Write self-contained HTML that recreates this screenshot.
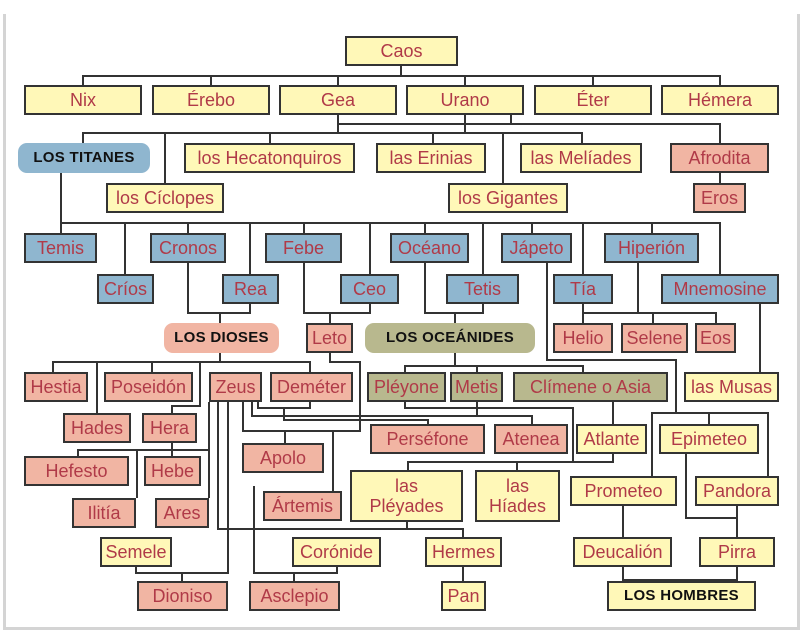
<!DOCTYPE html>
<html><head><meta charset="utf-8"><style>
body{margin:0;width:800px;height:632px;background:#fff;position:relative;overflow:hidden;font-family:"Liberation Sans","DejaVu Sans",sans-serif}
.f{position:absolute;left:3px;top:14px;width:791px;height:613px;border:3px solid #d4d4d4;border-top:none}
.b{position:absolute;box-sizing:border-box;border:2px solid #333;display:flex;align-items:center;justify-content:center;text-align:center;color:#b03a48;font-size:18px;line-height:20px;white-space:nowrap}
.y{background:#fff8b8}.u{background:#8fb6cf}.p{background:#f1b5a3}.o{background:#b8b88e}
.r{border:none;border-radius:9px;color:#111;font-weight:bold;font-size:15px;letter-spacing:.3px}
svg{position:absolute;left:0;top:0}
</style></head><body>
<div class="f"></div>
<svg width="800" height="632"><g fill="none" stroke="#333" stroke-width="2">
<polyline points="401,66 401,76"/><polyline points="83,85 83,76 720,76 720,85"/>
<polyline points="211,76 211,85"/><polyline points="338,76 338,85"/><polyline points="465,76 465,85"/><polyline points="593,76 593,85"/>
<polyline points="338,115 338,133"/><polyline points="83,143 83,133 582,133 582,143"/>
<polyline points="165,133 165,183"/><polyline points="270,133 270,143"/><polyline points="433,133 433,143"/><polyline points="503,133 503,183"/><polyline points="465,115 465,133"/>
<polyline points="338,124 511,124"/><polyline points="511,115 511,124 720,124 720,143"/><polyline points="720,173 720,183"/>
<polyline points="61,173 61,233"/><polyline points="61,223 720,223 720,274"/>
<polyline points="125,223 125,274"/><polyline points="188,223 188,233"/><polyline points="250,223 250,274"/><polyline points="304,223 304,233"/><polyline points="370,223 370,274"/><polyline points="425,223 425,233"/><polyline points="483,223 483,274"/><polyline points="532,223 532,233"/><polyline points="583,223 583,274"/><polyline points="652,223 652,233"/>
<polyline points="188,263 188,313 250,313 250,304"/><polyline points="220,313 220,323"/>
<polyline points="304,263 304,313 370,313 370,304"/><polyline points="330,313 330,323"/>
<polyline points="425,263 425,313 483,313 483,304"/><polyline points="455,313 455,323"/>
<polyline points="583,304 583,313 716,313 716,323"/><polyline points="638,263 638,313"/><polyline points="653,313 653,323"/><polyline points="583,313 583,323"/>
<polyline points="547,263 547,360 676,360 676,413"/><polyline points="652,476 652,413 768,413 768,476"/><polyline points="709,413 709,424"/>
<polyline points="760,304 760,372"/>
<polyline points="220,353 220,362"/><polyline points="53,372 53,362 310,362 310,372"/><polyline points="97,362 97,413"/><polyline points="152,362 152,372"/><polyline points="200,362 200,406 172,406 172,413"/>
<polyline points="330,353 330,362 360,362 360,431 243,431"/>
<polyline points="455,353 455,366"/><polyline points="405,372 405,366 583,366 583,372"/><polyline points="477,366 477,372"/>
<polyline points="172,443 172,456"/><polyline points="78,456 78,450 209,450 209,498"/><polyline points="137,450 137,498"/><polyline points="209,402 209,450"/>
<polyline points="243,402 243,431 333,431 333,491"/><polyline points="285,431 285,443"/>
<polyline points="258,402 258,408 310,408 310,402"/><polyline points="284,408 284,420 428,420 428,424"/>
<polyline points="252,402 252,416 532,416 532,424"/><polyline points="477,402 477,416"/>
<polyline points="405,402 405,408 573,408 573,462"/><polyline points="408,470 408,462 613,462 613,454"/><polyline points="517,462 517,470"/>
<polyline points="613,402 613,424"/>
<polyline points="218,402 218,529 463,529 463,537"/><polyline points="407,522 407,529"/><polyline points="463,567 463,581"/>
<polyline points="228,402 228,573 136,573 136,567"/><polyline points="182,573 182,581"/>
<polyline points="254,486 254,573 337,573 337,567"/><polyline points="294,573 294,581"/>
<polyline points="623,506 623,537"/><polyline points="686,454 686,518 737,518"/><polyline points="737,506 737,537"/>
<polyline points="623,567 623,580 737,580 737,567"/><polyline points="682,580 682,581"/>
</g></svg>
<div class="b y" style="left:345px;top:36px;width:113px;height:30px">Caos</div>
<div class="b y" style="left:24px;top:85px;width:118px;height:30px">Nix</div>
<div class="b y" style="left:152px;top:85px;width:118px;height:30px">Érebo</div>
<div class="b y" style="left:279px;top:85px;width:118px;height:30px">Gea</div>
<div class="b y" style="left:406px;top:85px;width:118px;height:30px">Urano</div>
<div class="b y" style="left:534px;top:85px;width:118px;height:30px">Éter</div>
<div class="b y" style="left:661px;top:85px;width:118px;height:30px">Hémera</div>
<div class="b u r" style="left:18px;top:143px;width:132px;height:30px">LOS TITANES</div>
<div class="b y" style="left:184px;top:143px;width:171px;height:30px">los Hecatonquiros</div>
<div class="b y" style="left:376px;top:143px;width:110px;height:30px">las Erinias</div>
<div class="b y" style="left:520px;top:143px;width:122px;height:30px">las Melíades</div>
<div class="b p" style="left:670px;top:143px;width:99px;height:30px">Afrodita</div>
<div class="b y" style="left:106px;top:183px;width:118px;height:30px">los Cíclopes</div>
<div class="b y" style="left:448px;top:183px;width:120px;height:30px">los Gigantes</div>
<div class="b p" style="left:693px;top:183px;width:53px;height:30px">Eros</div>
<div class="b u" style="left:24px;top:233px;width:73px;height:30px">Temis</div>
<div class="b u" style="left:150px;top:233px;width:76px;height:30px">Cronos</div>
<div class="b u" style="left:265px;top:233px;width:77px;height:30px">Febe</div>
<div class="b u" style="left:390px;top:233px;width:79px;height:30px">Océano</div>
<div class="b u" style="left:501px;top:233px;width:71px;height:30px">Jápeto</div>
<div class="b u" style="left:604px;top:233px;width:95px;height:30px">Hiperión</div>
<div class="b u" style="left:97px;top:274px;width:57px;height:30px">Críos</div>
<div class="b u" style="left:222px;top:274px;width:57px;height:30px">Rea</div>
<div class="b u" style="left:340px;top:274px;width:59px;height:30px">Ceo</div>
<div class="b u" style="left:446px;top:274px;width:73px;height:30px">Tetis</div>
<div class="b u" style="left:553px;top:274px;width:60px;height:30px">Tía</div>
<div class="b u" style="left:661px;top:274px;width:118px;height:30px">Mnemosine</div>
<div class="b p r" style="left:164px;top:323px;width:115px;height:30px">LOS DIOSES</div>
<div class="b p" style="left:306px;top:323px;width:47px;height:30px">Leto</div>
<div class="b o r" style="left:365px;top:323px;width:170px;height:30px">LOS OCEÁNIDES</div>
<div class="b p" style="left:553px;top:323px;width:60px;height:30px">Helio</div>
<div class="b p" style="left:621px;top:323px;width:67px;height:30px">Selene</div>
<div class="b p" style="left:695px;top:323px;width:41px;height:30px">Eos</div>
<div class="b p" style="left:24px;top:372px;width:64px;height:30px">Hestia</div>
<div class="b p" style="left:104px;top:372px;width:89px;height:30px">Poseidón</div>
<div class="b p" style="left:209px;top:372px;width:53px;height:30px">Zeus</div>
<div class="b p" style="left:270px;top:372px;width:83px;height:30px">Deméter</div>
<div class="b o" style="left:367px;top:372px;width:79px;height:30px">Pléyone</div>
<div class="b o" style="left:450px;top:372px;width:53px;height:30px">Metis</div>
<div class="b o" style="left:513px;top:372px;width:155px;height:30px">Clímene o Asia</div>
<div class="b y" style="left:684px;top:372px;width:95px;height:30px">las Musas</div>
<div class="b p" style="left:63px;top:413px;width:68px;height:30px">Hades</div>
<div class="b p" style="left:142px;top:413px;width:55px;height:30px">Hera</div>
<div class="b p" style="left:370px;top:424px;width:115px;height:30px">Perséfone</div>
<div class="b p" style="left:494px;top:424px;width:74px;height:30px">Atenea</div>
<div class="b y" style="left:576px;top:424px;width:71px;height:30px">Atlante</div>
<div class="b y" style="left:659px;top:424px;width:100px;height:30px">Epimeteo</div>
<div class="b p" style="left:24px;top:456px;width:105px;height:30px">Hefesto</div>
<div class="b p" style="left:144px;top:456px;width:57px;height:30px">Hebe</div>
<div class="b p" style="left:242px;top:443px;width:82px;height:30px">Apolo</div>
<div class="b y" style="left:350px;top:470px;width:113px;height:52px">las<br>Pléyades</div>
<div class="b y" style="left:475px;top:470px;width:85px;height:52px">las<br>Híades</div>
<div class="b y" style="left:570px;top:476px;width:107px;height:30px">Prometeo</div>
<div class="b y" style="left:695px;top:476px;width:84px;height:30px">Pandora</div>
<div class="b p" style="left:72px;top:498px;width:64px;height:30px">Ilitía</div>
<div class="b p" style="left:155px;top:498px;width:54px;height:30px">Ares</div>
<div class="b p" style="left:263px;top:491px;width:79px;height:30px">Ártemis</div>
<div class="b y" style="left:100px;top:537px;width:72px;height:30px">Semele</div>
<div class="b y" style="left:292px;top:537px;width:89px;height:30px">Corónide</div>
<div class="b y" style="left:425px;top:537px;width:77px;height:30px">Hermes</div>
<div class="b y" style="left:573px;top:537px;width:99px;height:30px">Deucalión</div>
<div class="b y" style="left:699px;top:537px;width:76px;height:30px">Pirra</div>
<div class="b p" style="left:137px;top:581px;width:91px;height:30px">Dioniso</div>
<div class="b p" style="left:249px;top:581px;width:91px;height:30px">Asclepio</div>
<div class="b y" style="left:441px;top:581px;width:45px;height:30px">Pan</div>
<div class="b y r" style="left:607px;top:581px;width:149px;height:30px;border:2px solid #333;border-radius:0">LOS HOMBRES</div>
</body></html>
